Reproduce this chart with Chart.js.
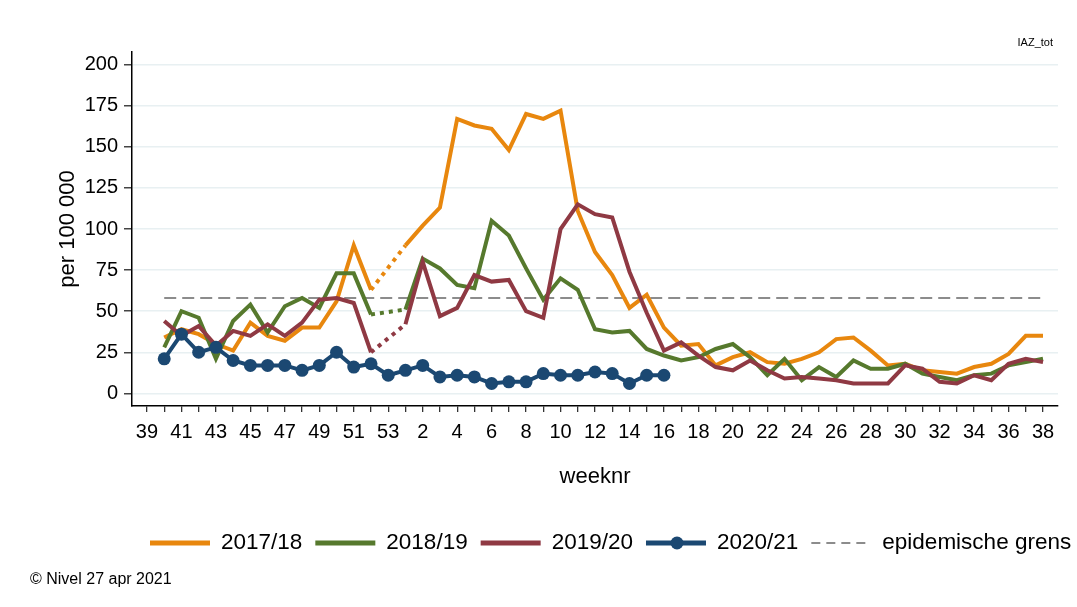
<!DOCTYPE html>
<html>
<head>
<meta charset="utf-8">
<script src="https://cdn.jsdelivr.net/npm/chart.js@4.4.0/dist/chart.umd.min.js"></script>
<style>
  body { margin: 0; background: #fff; }
  canvas { display: block; }
</style>
</head>
<body>
<canvas id="griepChart" width="1077" height="607"></canvas>
<script>
// weeknummers, seizoen loopt van week 39 t/m week 38
const weeks = ['39','40','41','42','43','44','45','46','47','48','49','50','51','52','53',
  '1','2','3','4','5','6','7','8','9','10','11','12','13','14','15','16','17','18','19','20',
  '21','22','23','24','25','26','27','28','29','30','31','32','33','34','35','36','37','38'];

// per 100 000, null = geen week 53 in dat seizoen
const s1718 = [null, 34, 39, 36, 30, 26, 43, 35, 32, 40, 40, 56, 90, 63, null,
  90, 102, 113, 167, 163, 161, 148, 170, 167, 172, 111, 86, 72, 52, 60, 40, 29, 30, 17, 22,
  25, 19, 18, 21, 25, 33, 34, 26, 17, 18, 14, 13, 12, 16, 18, 24, 35, 35];
const s1819 = [null, 28, 50, 46, 21, 44, 54, 37, 53, 58, 52, 73, 73, 48, null,
  51, 82, 76, 66, 64, 105, 96, 76, 57, 70, 63, 39, 37, 38, 27, 23, 20, 22, 27, 30,
  22, 11, 21, 8, 16, 10, 20, 15, 15, 18, 12, 10, 8, 11, 12, 17, 19, 21];
const s1920 = [null, 44, 35, 41, 29, 38, 35, 42, 35, 43, 57, 58, 55, 25, null,
  42, 80, 47, 52, 72, 68, 69, 50, 46, 100, 115, 109, 107, 74, 49, 26, 31, 23, 16, 14,
  20, 14, 9, 10, 9, 8, 6, 6, 6, 17, 15, 7, 6, 11, 8, 18, 21, 19];
const s2021 = [null, 21, 36, 25, 28, 20, 17, 17, 17, 14, 17, 25, 16, 18, 11,
  14, 17, 10, 11, 10, 6, 7, 7, 12, 11, 11, 13, 12, 6, 11, 11];

const epiGrens = 58;
const yTicks = [0, 25, 50, 75, 100, 125, 150, 175, 200];

const FONT = "'Liberation Sans', Arial, sans-serif";
Chart.defaults.font.family = FONT;
Chart.defaults.color = '#000';

function toPoints(values) {
  return weeks.map((w, i) => ({ x: i, y: values[i] === undefined ? null : values[i] }));
}
// stippellijn over de ontbrekende week 53
const gapDash = ctx => (ctx.p0.skip || ctx.p1.skip) ? [4, 5] : undefined;

function seasonLine(label, values, color, order) {
  return {
    label,
    data: toPoints(values),
    borderColor: color,
    backgroundColor: color,
    borderWidth: 4,
    pointRadius: 0,
    tension: 0,
    spanGaps: true,
    order,
    segment: { borderDash: gapDash }
  };
}

const datasets = [
  seasonLine('2017/18', s1718, '#e8870e', 3),
  seasonLine('2018/19', s1819, '#56792d', 2),
  seasonLine('2019/20', s1920, '#8f3943', 1),
  {
    label: '2020/21',
    data: toPoints(s2021),
    borderColor: '#1b4872',
    backgroundColor: '#1b4872',
    borderWidth: 4,
    pointRadius: 6.5,
    pointBorderWidth: 0,
    order: 0
  },
  {
    label: 'epidemische grens',
    data: weeks.map((w, i) => ({ x: i, y: i === 0 ? null : epiGrens })),
    borderColor: '#8c8c8c',
    borderWidth: 2,
    borderDash: [12, 6],
    pointRadius: 0,
    order: 4
  }
];

const extras = {
  id: 'extras',
  afterDraw(chart) {
    const ctx = chart.ctx;
    ctx.save();
    ctx.font = '22.5px ' + FONT;
    ctx.textBaseline = 'middle';
    ctx.fillStyle = '#000';
    let x = 150;
    const y = 543;
    chart.data.datasets.forEach(ds => {
      const isGrens = ds.label === 'epidemische grens';
      ctx.strokeStyle = ds.borderColor;
      ctx.lineWidth = isGrens ? 2 : 5;
      ctx.setLineDash(isGrens ? [9, 6] : []);
      ctx.beginPath();
      ctx.moveTo(x, y);
      ctx.lineTo(x + 60, y);
      ctx.stroke();
      ctx.setLineDash([]);
      if (ds.pointRadius) {
        ctx.fillStyle = ds.borderColor;
        ctx.beginPath();
        ctx.arc(x + 31, y, 6.5, 0, Math.PI * 2);
        ctx.fill();
      }
      x += 71;
      ctx.fillStyle = '#000';
      ctx.fillText(ds.label, x, y);
      x += ctx.measureText(ds.label).width + 13;
    });
    ctx.font = '16px ' + FONT;
    ctx.fillText('\u00a9 Nivel 27 apr 2021', 30, 580);
    ctx.font = '11px ' + FONT;
    ctx.textAlign = 'right';
    ctx.fillText('IAZ_tot', 1053, 43);
    ctx.restore();
  }
};

new Chart(document.getElementById('griepChart'), {
  type: 'line',
  data: { datasets },
  plugins: [extras],
  options: {
    responsive: false,
    animation: false,
    events: [],
    layout: { padding: { left: 51, top: 52, right: 19, bottom: 113 } },
    plugins: { legend: { display: false }, tooltip: { enabled: false } },
    scales: {
      x: {
        type: 'linear',
        min: -0.87,
        max: 52.87,
        afterBuildTicks: axis => { axis.ticks = weeks.map((w, i) => ({ value: i })); },
        afterFit: axis => { axis.height = 88; },
        ticks: {
          autoSkip: false,
          maxRotation: 0,
          padding: 8,
          font: { size: 20 },
          callback: v => (v % 2 === 0 ? weeks[v] : '')
        },
        grid: { drawOnChartArea: false, color: '#333', tickLength: 6, lineWidth: 1.3 },
        border: { color: '#000', width: 1.5 },
        title: { display: true, text: 'weeknr', font: { size: 22 } }
      },
      y: {
        min: -7.7,
        max: 207.7,
        afterBuildTicks: axis => { axis.ticks = yTicks.map(v => ({ value: v })); },
        afterFit: axis => { axis.width = 81; },
        ticks: { padding: 6, font: { size: 20 } },
        grid: { color: '#e8f0f2', lineWidth: 1.5, tickColor: '#444', tickLength: 8 },
        border: { color: '#000', width: 1.5 },
        title: { display: true, text: 'per 100 000', font: { size: 22 } }
      }
    }
  }
});
</script>
</body>
</html>
